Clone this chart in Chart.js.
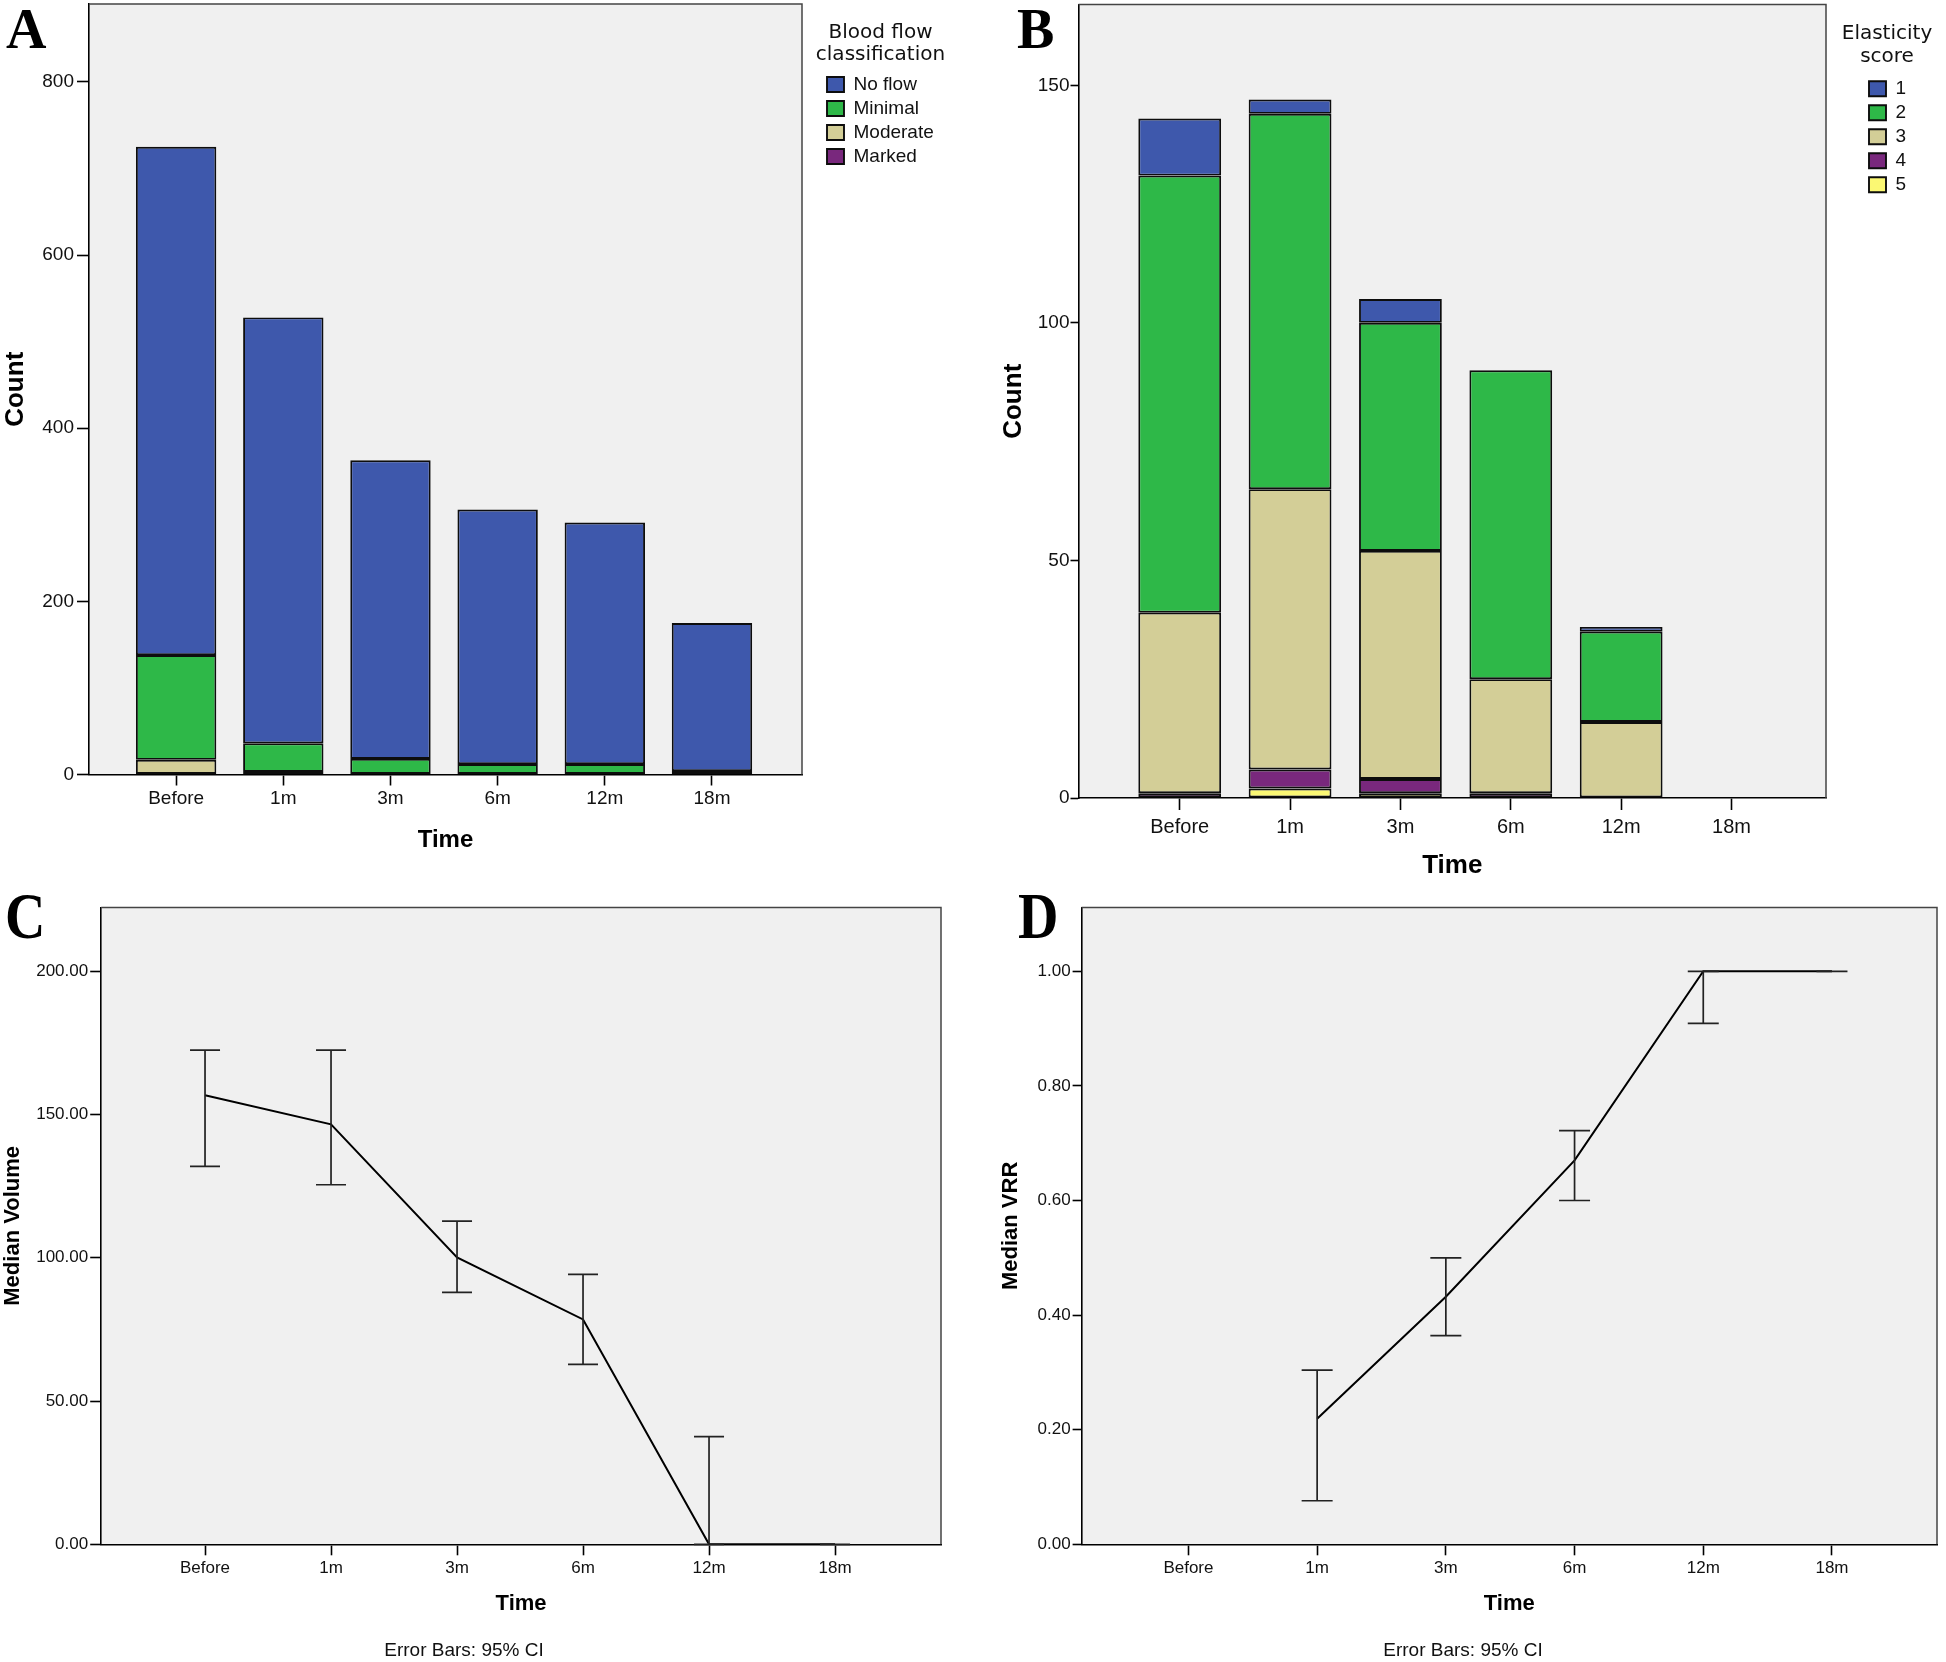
<!DOCTYPE html>
<html><head><meta charset="utf-8">
<script src="https://cdn.jsdelivr.net/npm/chart.js@4.4.1/dist/chart.umd.min.js"></script>
<style>
body{margin:0;background:#fff;width:1946px;height:1662px;position:relative;overflow:hidden}
canvas{position:absolute}
.lt{position:absolute;font-family:'Liberation Serif','Times New Roman',serif;font-weight:bold;font-size:56px;line-height:56px;color:#000;transform-origin:0 0}
.note{position:absolute;font-family:'Liberation Sans',Arial,sans-serif;font-size:19px;line-height:20px;width:400px;text-align:center;color:#111}
</style></head><body>
<canvas id="cA" width="972" height="870" style="left:0;top:0"></canvas>
<canvas id="cB" width="973" height="890" style="left:973px;top:0"></canvas>
<canvas id="cC" width="973" height="782" style="left:0;top:880px"></canvas>
<canvas id="cD" width="973" height="782" style="left:973px;top:880px"></canvas>
<div class="lt" style="left:6px;top:1px">A</div>
<div class="lt" style="left:1017px;top:1px">B</div>
<div class="lt" style="left:5px;top:883px;transform:scaleY(1.18)">C</div>
<div class="lt" style="left:1018px;top:883px;transform:scaleY(1.18)">D</div>
<div class="note" style="left:264px;top:1640px">Error Bars: 95% CI</div>
<div class="note" style="left:1263px;top:1640px">Error Bars: 95% CI</div>
<script>
// ---------- data ----------
const timeLabels = ['Before', '1m', '3m', '6m', '12m', '18m'];

// Panel A: blood flow classification counts
const flowNoFlow   = [587, 492, 345, 294, 279, 171];
const flowMinimal  = [121, 33, 18, 12, 12, 4];
const flowModerate = [17, 3, 0, 0, 0, 0];
const flowMarked   = [0, 0, 0, 0, 0, 0];
const countTicksA  = [0, 200, 400, 600, 800];
const legendTitleA = ['Blood flow', 'classification'];

// Panel B: elasticity score counts
const elast1 = [12, 3, 5, 0, 1, 0];
const elast2 = [92, 79, 48, 65, 19, 0];
const elast3 = [38, 59, 48, 24, 16, 0];
const elast4 = [1, 4, 3, 1, 0, 0];
const elast5 = [0, 2, 1, 0, 0, 0];
const countTicksB = [0, 50, 100, 150];
const legendTitleB = ['Elasticity', 'score'];

// Panel C: median volume with 95% CI
const medianVolume = [156.7, 146.6, 100.1, 78.5, 0, 0];
const volumeCILow  = [131.9, 125.5, 87.9, 62.8, 0, 0];
const volumeCIHigh = [172.5, 172.5, 112.8, 94.2, 37.6, 0];
const volumeTicks  = [0, 50, 100, 150, 200];

// Panel D: median VRR with 95% CI
const medianVRR = [null, 0.219, 0.432, 0.670, 1.0, 1.0];
const vrrCILow  = [null, 0.076, 0.364, 0.600, 0.909, 1.0];
const vrrCIHigh = [null, 0.304, 0.500, 0.722, 1.0, 1.0];
const vrrTicks  = [0, 0.2, 0.4, 0.6, 0.8, 1.0];

// ---------- styles ----------
const SANS = "'Liberation Sans', Arial, sans-serif";
const LEG_TITLE = "'DejaVu Sans', Verdana, sans-serif";
const BLUE = '#3E58AC', GREEN = '#2EB848', TAN = '#D3CE97', PURPLE = '#79287D', YELLOW = '#FBF873';
const EDGE = '#0d0d0d';

// ---------- plugins ----------
const frame = {
  id: 'frame',
  beforeDraw(chart) {
    const {ctx, chartArea: a} = chart;
    ctx.save(); ctx.fillStyle = '#F0F0F0';
    ctx.fillRect(a.left, a.top, a.right - a.left, a.bottom - a.top); ctx.restore();
  },
  afterDraw(chart) {
    const {ctx, chartArea: a} = chart;
    ctx.save(); ctx.strokeStyle = '#444'; ctx.lineWidth = 1.5;
    ctx.beginPath(); ctx.moveTo(a.left, a.top); ctx.lineTo(a.right, a.top); ctx.lineTo(a.right, a.bottom); ctx.stroke();
    ctx.restore();
  }
};
const legendPlace = {
  id: 'legendPlace',
  afterLayout(chart, args, opts) {
    const lg = chart.legend;
    if (!lg || opts.left == null) return;
    lg.left = opts.left; lg.width = opts.width; lg.right = opts.left + opts.width; lg.top = opts.top;
  },
  afterDraw(chart, args, opts) {
    if (!opts.heading) return;
    const {ctx} = chart;
    ctx.save(); ctx.fillStyle = '#111';
    ctx.font = opts.headingSize + 'px ' + LEG_TITLE;
    ctx.textAlign = 'center'; ctx.textBaseline = 'alphabetic';
    opts.heading.forEach((t, i) => ctx.fillText(t, opts.headingX, opts.headingY + i * opts.headingLine));
    ctx.restore();
  }
};
const errorBars = {
  id: 'errorBars',
  afterDatasetsDraw(chart, args, opts) {
    if (!opts.low) return;
    const {ctx} = chart; const xs = chart.scales.x, ys = chart.scales.y;
    ctx.save(); ctx.strokeStyle = '#222'; ctx.lineWidth = 1.7;
    opts.low.forEach((lo, i) => {
      const hi = opts.high[i];
      if (lo == null || hi == null) return;
      const x = xs.getPixelForValue(i), y1 = ys.getPixelForValue(lo), y2 = ys.getPixelForValue(hi);
      const h = opts.cap / 2;
      ctx.beginPath();
      ctx.moveTo(x, y1); ctx.lineTo(x, y2);
      ctx.moveTo(x - h, y1); ctx.lineTo(x + h, y1);
      ctx.moveTo(x - h, y2); ctx.lineTo(x + h, y2);
      ctx.stroke();
    });
    ctx.restore();
  }
};

// ---------- helpers ----------
function xAxis(o) {
  return {
    type: 'linear', bounds: 'data', min: o.min, max: o.max, offset: false, stacked: !!o.stacked,
    afterBuildTicks: s => { s.ticks = timeLabels.map((_, i) => ({value: i})); },
    afterFit: s => { s.height = o.height; s.paddingLeft = 0; s.paddingRight = 0; s.paddingTop = 0; s.paddingBottom = 0; },
    ticks: { font: {family: SANS, size: o.font}, color: '#111', padding: o.pad, maxRotation: 0, autoSkip: false,
             callback: v => timeLabels[v] },
    grid: { display: true, offset: false, drawOnChartArea: false, drawTicks: true, tickLength: o.tickLen,
            tickColor: '#000', tickWidth: 1.6, color: '#000' },
    border: { display: true, color: '#000', width: 1.6 },
    title: { display: true, text: 'Time', color: '#000',
             font: {family: SANS, size: o.titleSize, weight: 'bold', lineHeight: 1.2},
             padding: {top: 0, bottom: o.titlePad} }
  };
}
function yAxis(o) {
  return {
    type: 'linear', bounds: 'data', min: 0, max: o.max, position: 'left', stacked: !!o.stacked,
    afterBuildTicks: s => { s.ticks = o.ticks.map(v => ({value: v})); },
    afterFit: s => { s.width = o.width; s.paddingLeft = 0; s.paddingRight = 0; s.paddingTop = 0; s.paddingBottom = 0; },
    ticks: { font: {family: SANS, size: o.font}, color: '#111', padding: o.pad, callback: o.fmt },
    grid: { display: true, drawOnChartArea: false, drawTicks: true, tickLength: o.tickLen,
            tickColor: '#000', tickWidth: 1.6, color: '#000' },
    border: { display: true, color: '#000', width: 1.6 },
    title: { display: true, text: o.title, color: '#000',
             font: {family: SANS, size: o.titleSize, weight: 'bold', lineHeight: 1.2},
             padding: {top: o.titlePad, bottom: 0} }
  };
}
const pts = arr => arr.map((v, i) => ({x: i, y: v}));
function barSet(label, arr, color) {
  return { label, data: pts(arr), backgroundColor: color, borderColor: EDGE, borderWidth: 1.9,
           borderSkipped: false, categoryPercentage: 1, barPercentage: 0.75 };
}
function legendOpts(o) {
  return {
    display: true, position: 'right', align: 'start', reverse: true, maxWidth: o.maxWidth,
    title: { display: false },
    labels: { font: {family: SANS, size: 19}, color: '#111', boxWidth: 17, boxHeight: 15, padding: 5 }
  };
}

// ---------- Panel A ----------
new Chart(document.getElementById('cA'), {
  type: 'bar',
  data: { datasets: [
    barSet('Marked', flowMarked, PURPLE),
    barSet('Moderate', flowModerate, TAN),
    barSet('Minimal', flowMinimal, GREEN),
    barSet('No flow', flowNoFlow, BLUE)
  ]},
  options: {
    responsive: false, animation: false, devicePixelRatio: 1,
    layout: { autoPadding: false, padding: {left: 0, top: 4, right: 90, bottom: 0} },
    scales: {
      x: xAxis({min: -0.813, max: 5.84, stacked: true, height: 95.5, font: 19, pad: 2, tickLen: 11, titleSize: 24, titlePad: 15}),
      y: yAxis({max: 890, ticks: countTicksA, stacked: true, width: 89, font: 19, pad: 3, tickLen: 12,
                title: 'Count', titleSize: 26, titlePad: 0, fmt: v => String(v)})
    },
    plugins: {
      legend: legendOpts({maxWidth: 80}),
      legendPlace: {left: 822, width: 140, top: 70,
                    heading: legendTitleA, headingX: 880.5, headingY: 37.7, headingLine: 22.5, headingSize: 20},
      tooltip: {enabled: false}
    }
  },
  plugins: [frame, legendPlace]
});

// ---------- Panel B ----------
new Chart(document.getElementById('cB'), {
  type: 'bar',
  data: { datasets: [
    barSet('5', elast5, YELLOW),
    barSet('4', elast4, PURPLE),
    barSet('3', elast3, TAN),
    barSet('2', elast2, GREEN),
    barSet('1', elast1, BLUE)
  ]},
  options: {
    responsive: false, animation: false, devicePixelRatio: 1,
    layout: { autoPadding: false, padding: {left: 0, top: 4.5, right: 90, bottom: 0} },
    scales: {
      x: xAxis({min: -0.917, max: 5.856, stacked: true, height: 92, font: 20, pad: 5, tickLen: 12, titleSize: 26, titlePad: 8.8}),
      y: yAxis({max: 167, ticks: countTicksB, stacked: true, width: 105.5, font: 19, pad: 1, tickLen: 8,
                title: 'Count', titleSize: 26, titlePad: 25.4, fmt: v => String(v)})
    },
    plugins: {
      legend: legendOpts({maxWidth: 30}),
      legendPlace: {left: 891, width: 75, top: 74.2,
                    heading: legendTitleB, headingX: 914, headingY: 39.3, headingLine: 22.4, headingSize: 20},
      tooltip: {enabled: false}
    }
  },
  plugins: [frame, legendPlace]
});

// ---------- Panel C ----------
new Chart(document.getElementById('cC'), {
  type: 'line',
  data: { datasets: [{
    label: 'Median Volume', data: pts(medianVolume), borderColor: '#000', borderWidth: 2,
    pointRadius: 0, tension: 0, fill: false
  }]},
  options: {
    responsive: false, animation: false, devicePixelRatio: 1,
    layout: { autoPadding: false, padding: {left: 0, top: 27.4, right: 32, bottom: 0} },
    scales: {
      x: xAxis({min: -0.824, max: 5.841, height: 117.7, font: 17, pad: 3, tickLen: 11, titleSize: 22, titlePad: 44.8}),
      y: yAxis({max: 222.3, ticks: volumeTicks, width: 101.2, font: 17, pad: 2, tickLen: 11,
                title: 'Median Volume', titleSize: 22, titlePad: 0.2, fmt: v => Number(v).toFixed(2)})
    },
    plugins: {
      legend: {display: false}, tooltip: {enabled: false},
      errorBars: {low: volumeCILow, high: volumeCIHigh, cap: 30}
    }
  },
  plugins: [frame, errorBars]
});

// ---------- Panel D ----------
new Chart(document.getElementById('cD'), {
  type: 'line',
  data: { datasets: [{
    label: 'Median VRR', data: pts(medianVRR), borderColor: '#000', borderWidth: 2,
    pointRadius: 0, tension: 0, fill: false
  }]},
  options: {
    responsive: false, animation: false, devicePixelRatio: 1,
    layout: { autoPadding: false, padding: {left: 0, top: 27.4, right: 9, bottom: 0} },
    scales: {
      x: xAxis({min: -0.83, max: 5.816, height: 117.7, font: 17, pad: 3, tickLen: 11, titleSize: 22, titlePad: 44.8}),
      y: yAxis({max: 1.1115, ticks: vrrTicks, width: 108.6, font: 17, pad: 2, tickLen: 9,
                title: 'Median VRR', titleSize: 22, titlePad: 24.8, fmt: v => Number(v).toFixed(2)})
    },
    plugins: {
      legend: {display: false}, tooltip: {enabled: false},
      errorBars: {low: vrrCILow, high: vrrCIHigh, cap: 31}
    }
  },
  plugins: [frame, errorBars]
});
</script>
</body></html>
